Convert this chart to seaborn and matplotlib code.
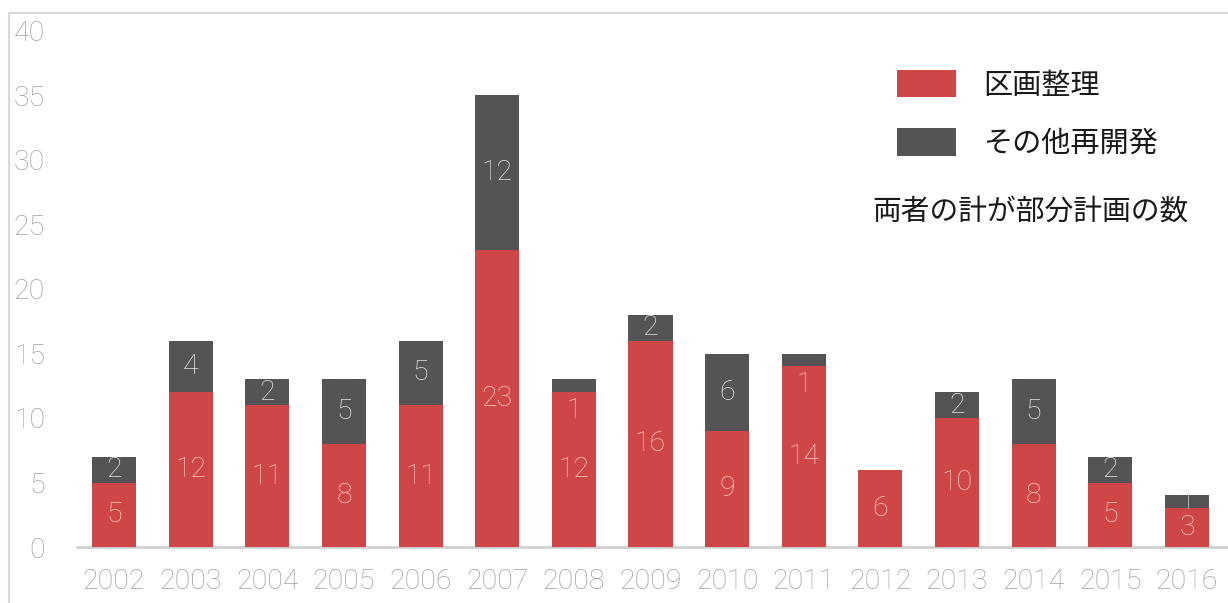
import matplotlib
matplotlib.use("Agg")
import matplotlib.pyplot as plt
import seaborn as sns
import pandas as pd
from matplotlib.patches import Patch

years = ["2002", "2003", "2004", "2005", "2006", "2007", "2008", "2009",
         "2010", "2011", "2012", "2013", "2014", "2015", "2016"]
kukaku = [5, 12, 11, 8, 11, 23, 12, 16, 9, 14, 6, 10, 8, 5, 3]
sonota = [2, 4, 2, 5, 5, 12, 1, 2, 6, 1, 0, 2, 5, 2, 1]
yticks = [0, 5, 10, 15, 20, 25, 30, 35, 40]
legend_labels = ["区画整理", "その他再開発"]
note = "両者の計が部分計画の数"

RED = "#cf4647"
DARK = "#555355"

sns.set_theme(style="white")
plt.rcParams["font.family"] = ["Roboto", "Noto Sans CJK JP", "DejaVu Sans"]

df = pd.DataFrame({"year": years, "kukaku": kukaku, "sonota": sonota})

fig = plt.figure(figsize=(12.28, 6.03), dpi=100)
ax = fig.add_axes([9 / 1228, 0, 1 - 9 / 1228, (603 - 13) / 603])

sns.barplot(data=df, x="year", y="kukaku", color=RED, width=0.575,
            saturation=1, ax=ax, linewidth=0)
sns.barplot(data=df, x="year", y="sonota", bottom=df["kukaku"], color=DARK,
            width=0.575, saturation=1, ax=ax, linewidth=0)

ax.set_xlim((9 - 114) / 76.64, (1228 - 114) / 76.64)
ax.set_ylim(-(603 - 547) / 12.9, (547 - 13) / 12.9)
ax.set_xlabel("")
ax.set_ylabel("")
ax.set_xticks([])
ax.set_yticks(yticks)
ax.set_yticklabels([str(t) for t in yticks], fontsize=20.5, color="#a0a0a0",
                   fontweight="light")
ax.tick_params(axis="y", length=0, pad=-26)
for lab in ax.get_yticklabels():
    lab.set_horizontalalignment("right")

for s in ["right", "bottom"]:
    ax.spines[s].set_visible(False)
for s in ["left", "top"]:
    ax.spines[s].set_color("#d9d9d9")
    ax.spines[s].set_linewidth(1.5)

ax.axhline(0, xmin=(77 - 9) / 1219, xmax=1, color="#d0d0d0", lw=2, zorder=0)

# year labels
for i, y in enumerate(years):
    ax.text(i, -2.7, y, ha="center", va="center", fontsize=20.5,
            color="#a0a0a0", fontweight="light")

# segment labels
for i, (a, b) in enumerate(zip(kukaku, sonota)):
    ax.text(i, a / 2, str(a), ha="center", va="center", fontsize=20.5,
            color="#f6cdc2", fontweight="light")
    if b > 0:
        if b == 1 and a > 10:
            # thin segment: label sits just under the top of the red part
            ypos = a - 1.4
            col = "#f6cdc2"
        else:
            ypos = a + b / 2
            col = "#e4e4e4"
        ax.text(i, ypos, str(b), ha="center", va="center", fontsize=20.5,
                color=col, fontweight="light")

handles = [Patch(facecolor=RED, edgecolor="none"),
           Patch(facecolor=DARK, edgecolor="none")]
leg = ax.legend(handles, legend_labels, loc="upper left",
                bbox_to_anchor=(897 / 1228, 1 - 70 / 603), bbox_transform=fig.transFigure,
                frameon=False, handlelength=2.02, handleheight=1.06,
                labelspacing=0.95, handletextpad=0.92, borderpad=0,
                borderaxespad=0,
                prop={"family": ["Noto Sans CJK JP"], "size": 21})
for t in leg.get_texts():
    t.set_color("#1a1a1a")

fig.text(872 / 1228, 1 - 213 / 603, note, ha="left", va="center", fontsize=20.7,
         family=["Noto Sans CJK JP"], color="#1a1a1a")

fig.savefig("out.png", dpi=100)
